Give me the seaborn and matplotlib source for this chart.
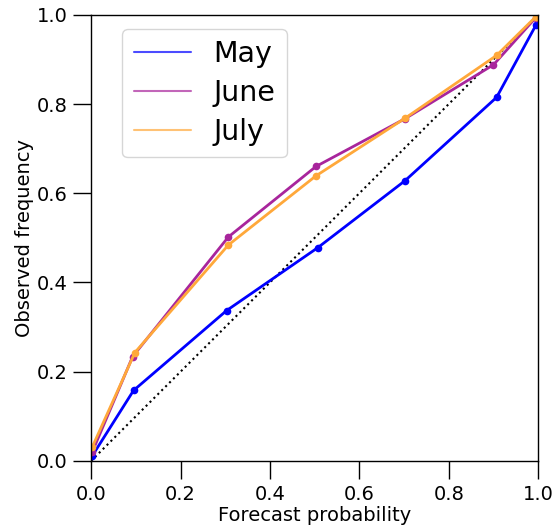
import numpy as np
import pandas as pd
import seaborn as sns
import matplotlib
matplotlib.use("Agg")
import matplotlib.pyplot as plt
from matplotlib.lines import Line2D

months = ["May", "June", "July"]
colors = ["#0000ff", "#a8259c", "#ffa83a"]
may_x = [0.003, 0.095, 0.303, 0.507, 0.702, 0.907, 0.995]
may_y = [0.012, 0.158, 0.337, 0.478, 0.628, 0.815, 0.977]
june_x = [0.003, 0.093, 0.307, 0.503, 0.702, 0.900, 0.994]
june_y = [0.021, 0.234, 0.502, 0.660, 0.767, 0.888, 0.993]
july_x = [0.003, 0.098, 0.307, 0.503, 0.702, 0.907, 0.994]
july_y = [0.032, 0.243, 0.484, 0.639, 0.768, 0.909, 0.995]

sns.set_style("ticks")
plt.rcParams['font.family'] = ['DejaVu Sans']
plt.rcParams['text.color'] = 'black'
plt.rcParams['axes.labelcolor'] = 'black'

fig = plt.figure(figsize=(5.52, 5.28), dpi=100)
ax = fig.add_axes([0.165, 0.127, 0.81, 0.845])

ax.plot([0, 1], [0, 1], ls=":", color="black", lw=1.5)
series = [(may_x, may_y), (june_x, june_y), (july_x, july_y)]
for name, (xs, ys), c in zip(months, series, colors):
    df = pd.DataFrame({"x": xs, "y": ys})
    sns.lineplot(data=df, x="x", y="y", ax=ax, color=c, lw=2, marker="o",
                 markersize=5.5, markeredgewidth=0, label=None)

ax.set_xlim(0, 1)
ax.set_ylim(0, 1)
ax.set_xticks(np.arange(0, 1.01, 0.2))
ax.set_yticks(np.arange(0, 1.01, 0.2))
ax.tick_params(labelsize=14, length=13, width=1, pad=4, direction="out", colors="black")
for s in ax.spines.values():
    s.set_visible(True)
    s.set_color("black")
    s.set_linewidth(1)
ax.set_xlabel("Forecast probability", fontsize=14, labelpad=2)
ax.set_ylabel("Observed frequency", fontsize=14, labelpad=2)

handles = [Line2D([0], [0], color=c, lw=1.5, alpha=0.7) for c in colors]
ax.legend(handles, months, loc="upper left", bbox_to_anchor=(0.07, 0.968),
          fontsize=20.5, frameon=True, handlelength=2, handletextpad=0.8,
          labelspacing=0.38, borderaxespad=0)

fig.savefig("out.png", dpi=100)
